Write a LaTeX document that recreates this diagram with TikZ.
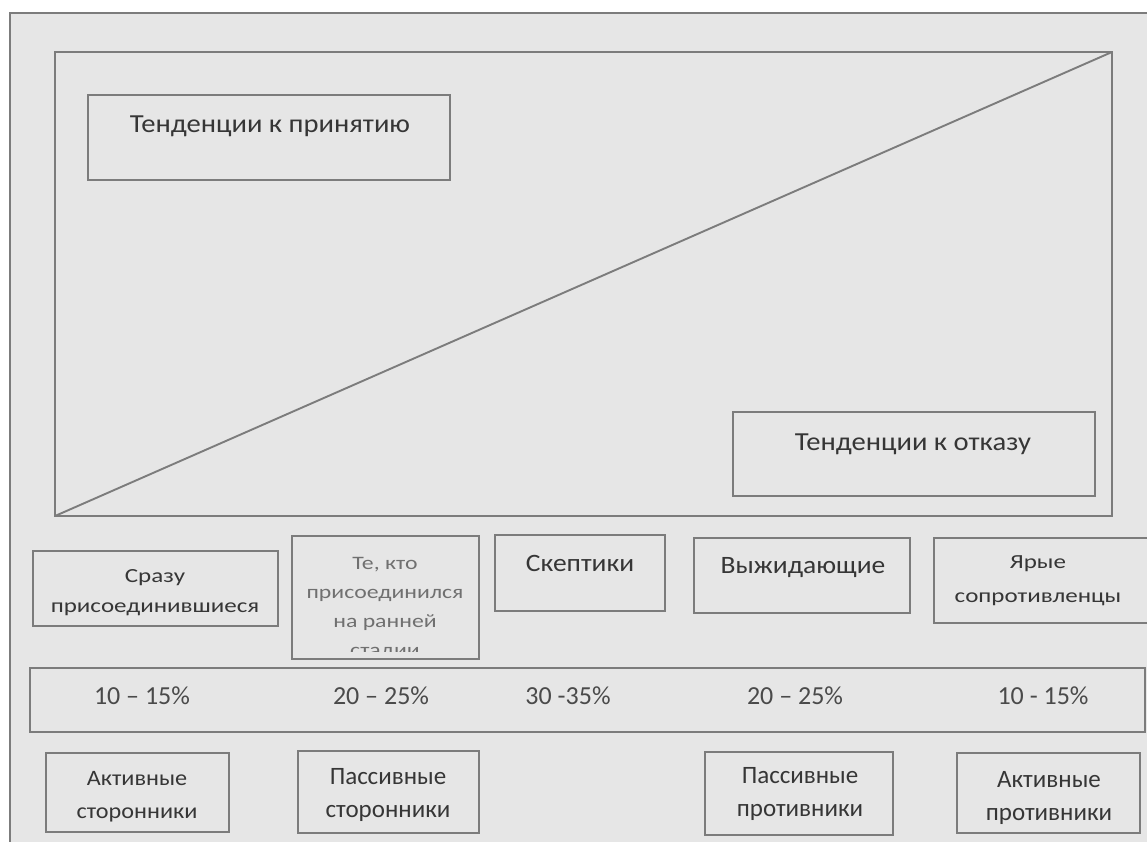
\documentclass[tikz,border=0pt]{standalone}
\usepackage{fontspec}
\setmainfont{Carlito}
\newfontfamily\cwide[FakeStretch=1.25]{Carlito}
\newfontfamily\cmed[FakeStretch=1.1]{Carlito}
\definecolor{bggray}{HTML}{E6E6E6}
\definecolor{linegray}{HTML}{7C7C7C}
\definecolor{txtdark}{HTML}{363636}
\definecolor{txtlight}{HTML}{707070}
\begin{document}
\begin{tikzpicture}[x=1pt,y=-1pt]
\tikzset{
  boxr/.style={draw=linegray, line width=1.7pt, rectangle, inner sep=0pt, outer sep=0pt, anchor=north west},
  lbl/.style={text=txtdark, inner sep=0pt, align=center},
  big/.style={lbl, font=\cmed\fontsize{26}{30}\selectfont},
  mid/.style={lbl, font=\cwide\fontsize{20}{30}\selectfont},
  pct/.style={lbl, text=txtdark!90, font=\fontsize{26}{30}\selectfont},
  bot/.style={lbl, font=\fontsize{25}{33}\selectfont},
}
\useasboundingbox (0,0) rectangle (1147,841);
\clip (0,0) rectangle (1147,841);
\fill[white] (0,0) rectangle (1147,841);
\draw[fill=bggray, draw=linegray, line width=1.7pt] (10,13) rectangle (1180,880);

% chart
\node[boxr, minimum width=1057pt, minimum height=464pt] (chart) at (55,52) {};
\draw[linegray, line width=1.9pt] (chart.south west) -- (chart.north east);
\node[boxr, minimum width=362pt, minimum height=85pt] (acc) at (88,95) {};
\node[big] (acct) at (270,126) {Тенденции к принятию};
\node[boxr, minimum width=362pt, minimum height=84pt] (rej) at (733,412) {};
\node[big] (rejt) at (913,444) {Тенденции к отказу};

% first row
\node[boxr, minimum width=245pt, minimum height=75pt] (b1) at (33,551) {};
\node[mid] (t1) at (155,593) {Сразу\\присоединившиеся};
\node[boxr, minimum width=187pt, minimum height=123pt] (b2) at (292,536) {};
\begin{scope}
\clip (293,537) rectangle (478,651);
\node[lbl, text=txtlight, font=\cwide\fontsize{19}{29}\selectfont, anchor=north] (t2) at (385,557) {Те, кто\\присоединился\\на ранней\\стадии};
\end{scope}
\node[boxr, minimum width=170pt, minimum height=76pt] (b3) at (495,535) {};
\node[lbl, font=\cmed\fontsize{25}{30}\selectfont] (t3) at (580,563) {Скептики};
\node[boxr, minimum width=216pt, minimum height=75pt] (b4) at (694,538) {};
\node[lbl, font=\cmed\fontsize{25}{30}\selectfont] (t4) at (803,568) {Выжидающие};
\node[boxr, minimum width=240pt, minimum height=85pt] (b5) at (934,538) {};
\node[lbl, font=\cwide\fontsize{20}{34}\selectfont] (t5) at (1038,581) {Ярые\\сопротивленцы};

% percent bar
\node[boxr, minimum width=1115pt, minimum height=64pt] (bar) at (30,668) {};
\node[pct] (p1) at (142,696) {10 – 15\%};
\node[pct] (p2) at (381,696) {20 – 25\%};
\node[pct] (p3) at (568,696) {30 -35\%};
\node[pct] (p4) at (795,696) {20 – 25\%};
\node[pct] (p5) at (1043,696) {10 - 15\%};

% bottom row
\node[boxr, minimum width=183pt, minimum height=79pt] (c1) at (46,753) {};
\node[lbl, font=\cmed\fontsize{22}{33}\selectfont] (u1) at (137,797) {Активные\\сторонники};
\node[boxr, minimum width=181pt, minimum height=82pt] (c2) at (298,751) {};
\node[bot] (u2) at (388,795) {Пассивные\\сторонники};
\node[boxr, minimum width=188pt, minimum height=83pt] (c3) at (705,752) {};
\node[bot] (u3) at (800,794) {Пассивные\\противники};
\node[boxr, minimum width=183pt, minimum height=80pt] (c4) at (957,753) {};
\node[bot] (u4) at (1049,798) {Активные\\противники};
\end{tikzpicture}
\end{document}
